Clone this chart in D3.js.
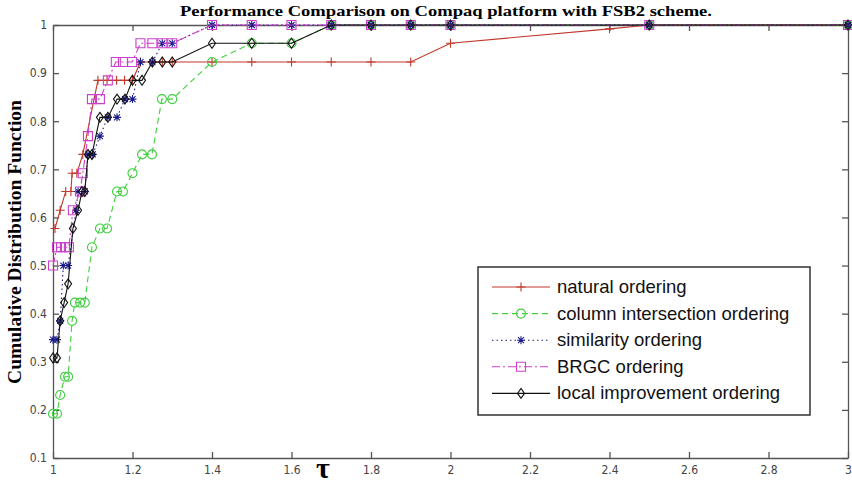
<!DOCTYPE html>
<html>
<head>
<meta charset="utf-8">
<script src="https://cdn.jsdelivr.net/npm/d3@7"></script>
<style>
  body { margin: 0; background: #fff; }
  svg { display: block; }
</style>
</head>
<body>
<script>
const WIDTH = 852;
const HEIGHT = 487;
const PLOT = {LEFT: 53, RIGHT: 848, TOP: 25, BOTTOM: 458};

// tick labels
const xTicks = [1, 1.2, 1.4, 1.6, 1.8, 2, 2.2, 2.4, 2.6, 2.8, 3];
const yTicks = [0.1, 0.2, 0.3, 0.4, 0.5, 0.6, 0.7, 0.8, 0.9, 1];

const seriesNames = ["natural ordering", "column intersection ordering",
    "similarity ordering", "BRGC ordering", "local improvement ordering"];

// tau values and cumulative fractions
const naturalTau = [1.005, 1.018, 1.032, 1.045, 1.048, 1.06, 1.075, 1.113, 1.136, 1.16, 1.18, 1.2,
    1.22, 1.25, 1.275, 1.3, 1.4, 1.5, 1.6, 1.7, 1.8, 1.9, 2.0, 2.4, 2.5, 3.0];
const naturalCdf = [0.577, 0.615, 0.654, 0.654, 0.692, 0.692, 0.731, 0.885, 0.885, 0.885, 0.885, 0.885,
    0.923, 0.923, 0.923, 0.923, 0.923, 0.923, 0.923, 0.923, 0.923, 0.923, 0.962, 0.992, 1, 1];

const columnTau = [1.0, 1.01, 1.018, 1.03, 1.038, 1.048, 1.055, 1.068, 1.08, 1.098, 1.118, 1.136,
    1.161, 1.176, 1.2, 1.224, 1.249, 1.274, 1.3, 1.4, 1.5, 1.6, 1.7, 1.8, 1.9, 2.0, 2.5, 3.0];
const columnCdf = [0.192, 0.192, 0.231, 0.269, 0.269, 0.385, 0.423, 0.423, 0.423, 0.538, 0.577, 0.577,
    0.654, 0.654, 0.692, 0.731, 0.731, 0.846, 0.846, 0.923, 0.962, 0.962, 1, 1, 1, 1, 1, 1];

const similarityTau = [1.0, 1.01, 1.018, 1.026, 1.038, 1.058, 1.063, 1.08, 1.088, 1.1, 1.118, 1.138,
    1.161, 1.181, 1.2, 1.22, 1.25, 1.275, 1.3, 1.4, 1.5, 1.6, 1.7, 1.8, 1.9, 2.0, 2.5, 3.0];
const similarityCdf = [0.346, 0.346, 0.385, 0.5, 0.5, 0.615, 0.654, 0.654, 0.731, 0.731, 0.769, 0.808,
    0.808, 0.846, 0.846, 0.923, 0.923, 0.962, 0.962, 1, 1, 1, 1, 1, 1, 1, 1, 1];

const brgcTau = [1.0, 1.01, 1.02, 1.03, 1.04, 1.05, 1.068, 1.075, 1.088, 1.098, 1.118, 1.138,
    1.158, 1.176, 1.199, 1.22, 1.25, 1.275, 1.3, 1.4, 1.5, 1.6, 1.7, 1.8, 1.9, 2.0, 2.5, 3.0];
const brgcCdf = [0.5, 0.538, 0.538, 0.538, 0.538, 0.615, 0.654, 0.692, 0.769, 0.846, 0.846, 0.885,
    0.923, 0.923, 0.923, 0.962, 0.962, 0.962, 0.962, 1, 1, 1, 1, 1, 1, 1, 1, 1];

const localTau = [1.0, 1.01, 1.018, 1.028, 1.038, 1.05, 1.063, 1.073, 1.08, 1.088, 1.098, 1.118,
    1.138, 1.161, 1.181, 1.2, 1.224, 1.25, 1.275, 1.3, 1.4, 1.5, 1.6, 1.7, 1.8, 1.9, 2.0, 2.5, 3.0];
const localCdf = [0.308, 0.308, 0.385, 0.423, 0.462, 0.577, 0.615, 0.654, 0.654, 0.731, 0.731, 0.808,
    0.808, 0.846, 0.846, 0.885, 0.885, 0.923, 0.923, 0.923, 0.962, 0.962, 0.962, 1, 1, 1, 1, 1, 1];

const taus = [naturalTau, columnTau, similarityTau, brgcTau, localTau];
const cdfs = [naturalCdf, columnCdf, similarityCdf, brgcCdf, localCdf];

// line styles per series (matlab style: r-+, g--o, b:*, m-.s, k-d)
const styles = [
    {color: "#c0392b", dash: null, marker: "plus"},
    {color: "#3fcf3f", dash: "6,4", marker: "circle"},
    {color: "#1c1c8c", dash: "1.5,3", marker: "star"},
    {color: "#cc3fcc", dash: "8,3,2,3", marker: "square"},
    {color: "#111111", dash: null, marker: "diamond"}
];

function markerPath(kind) {
    if (kind == "plus") return "M-4.5,0H4.5M0,-4.5V4.5";
    if (kind == "star") return "M-4,0H4M0,-4V4M-3,-3L3,3M-3,3L3,-3";
    if (kind == "circle") return "M4.5,0A4.5,4.5 0 1,1 -4.5,0A4.5,4.5 0 1,1 4.5,0Z";
    if (kind == "square") return "M-4.5,-4.5H4.5V4.5H-4.5Z";
    return "M0,-5L3.5,0L0,5L-3.5,0Z";
}

var svg = d3.select("body").append("svg")
    .attr("width", WIDTH)
    .attr("height", HEIGHT);

var xScale = d3.scaleLinear()
    .domain([1, 3])
    .range([PLOT.LEFT, PLOT.RIGHT]);

var yScale = d3.scaleLinear()
    .domain([0.1, 1])
    .range([PLOT.BOTTOM, PLOT.TOP]);

var fmt = d3.format("~g");

// axes, ticks pointing inwards like matlab
svg.append("g")
    .attr("transform", "translate(0," + PLOT.BOTTOM + ")")
    .call(d3.axisBottom(xScale).tickValues(xTicks).tickFormat(fmt)
        .tickSizeInner(-6).tickSizeOuter(0).tickPadding(7));

svg.append("g")
    .attr("transform", "translate(0," + PLOT.TOP + ")")
    .call(d3.axisTop(xScale).tickValues(xTicks).tickFormat("")
        .tickSizeInner(-6).tickSizeOuter(0));

svg.append("g")
    .attr("transform", "translate(" + PLOT.LEFT + ",0)")
    .call(d3.axisLeft(yScale).tickValues(yTicks).tickFormat(fmt)
        .tickSizeInner(-6).tickSizeOuter(0).tickPadding(6));

svg.append("g")
    .attr("transform", "translate(" + PLOT.RIGHT + ",0)")
    .call(d3.axisRight(yScale).tickValues(yTicks).tickFormat("")
        .tickSizeInner(-6).tickSizeOuter(0));

svg.selectAll(".domain, .tick line")
    .attr("stroke", "#555")
    .attr("stroke-width", 1.3);

svg.selectAll(".tick text")
    .attr("fill", "#444")
    .style("font-family", "'Liberation Sans Narrow', 'DejaVu Sans Condensed', Arial, sans-serif")
    .style("font-size", "12px");

// series
var line = d3.line()
    .x(d => xScale(d[0]))
    .y(d => yScale(d[1]));

for (var i = 0; i < taus.length; i++) {
    var pts = taus[i].map((t, j) => [t, cdfs[i][j]]);
    var st = styles[i];
    var g = svg.append("g");
    g.append("path")
        .datum(pts)
        .attr("d", line)
        .attr("fill", "none")
        .attr("stroke", st.color)
        .attr("stroke-width", 1.1)
        .attr("stroke-dasharray", st.dash);
    g.selectAll("path.mk")
        .data(pts)
        .enter().append("path")
        .attr("class", "mk")
        .attr("transform", d => "translate(" + xScale(d[0]) + "," + yScale(d[1]) + ")")
        .attr("d", markerPath(st.marker))
        .attr("fill", "none")
        .attr("stroke", st.color)
        .attr("stroke-width", 1.1);
}

// legend
var legend = svg.append("g");
legend.append("rect")
    .attr("x", 478).attr("y", 267)
    .attr("width", 332).attr("height", 148)
    .attr("fill", "#fff")
    .attr("stroke", "#333")
    .attr("stroke-width", 1.5);

seriesNames.forEach(function(name, i) {
    var y = 287 + i * 26.6;
    var st = styles[i];
    legend.append("line")
        .attr("x1", 492).attr("x2", 550)
        .attr("y1", y).attr("y2", y)
        .attr("stroke", st.color)
        .attr("stroke-width", 1.1)
        .attr("stroke-dasharray", st.dash);
    legend.append("path")
        .attr("transform", "translate(521," + y + ")")
        .attr("d", markerPath(st.marker))
        .attr("fill", "none")
        .attr("stroke", st.color)
        .attr("stroke-width", 1.1);
    legend.append("text")
        .attr("x", 557).attr("y", y + 6)
        .style("font-family", "'Liberation Sans', Arial, sans-serif")
        .style("font-size", "18.5px")
        .attr("fill", "#111")
        .text(name);
});

// title and labels
svg.append("text")
    .attr("x", 446).attr("y", 16)
    .attr("text-anchor", "middle")
    .attr("textLength", 532)
    .attr("lengthAdjust", "spacingAndGlyphs")
    .style("font-family", "'Liberation Serif', 'Times New Roman', serif")
    .style("font-weight", "bold")
    .style("font-size", "15px")
    .text("Performance Comparison on Compaq platform with FSB2 scheme.");

svg.append("text")
    .attr("transform", "translate(21,242) rotate(-90)")
    .attr("text-anchor", "middle")
    .style("font-family", "'Liberation Serif', 'Times New Roman', serif")
    .style("font-weight", "bold")
    .style("font-size", "19.5px")
    .text("Cumulative Distribution Function");

svg.append("text")
    .attr("x", 323).attr("y", 478)
    .attr("text-anchor", "middle")
    .style("font-family", "'Liberation Serif', 'Times New Roman', serif")
    .style("font-weight", "bold")
    .style("font-size", "30px")
    .text("τ");
</script>
</body>
</html>
